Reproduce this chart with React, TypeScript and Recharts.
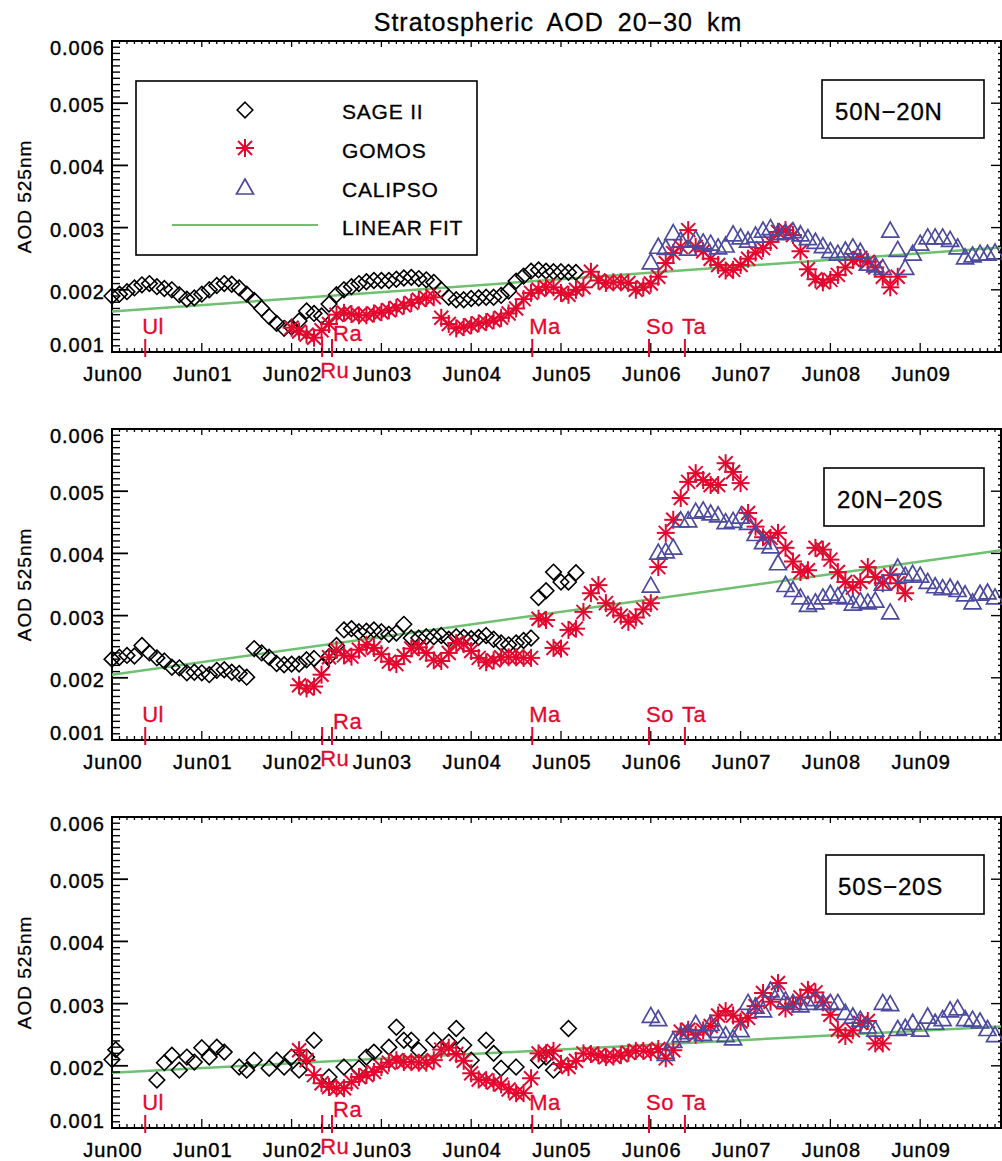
import React from 'react';
import {
  ScatterChart,
  Scatter,
  XAxis,
  YAxis,
  ReferenceArea,
  ReferenceLine,
  Legend
} from 'recharts';

const FONT = "'Liberation Sans', Arial, sans-serif";
const RED = '#e3082e';
const BLUE = '#4c4a9e';
const GREEN = '#6fc070';

// plot geometry inside each chart
const PT = 20;
const PB = 331;
const PL = 112;
const PR = 1001;
const panelTops = [21, 409, 797];

const X_MAX = 9.9;
const xTickLabels = ['Jun00', 'Jun01', 'Jun02', 'Jun03', 'Jun04', 'Jun05', 'Jun06', 'Jun07', 'Jun08', 'Jun09'];
const yTickLabels = ['0.001', '0.002', '0.003', '0.004', '0.005', '0.006'];
const regionNames = ['50N\u221220N', '20N\u221220S', '50S\u221220S'];

const volcanoNames = ['Ul', 'Ru', 'Ra', 'Ma', 'So', 'Ta'];
const volcanoTimes = [0.37, 2.34, 2.45, 4.68, 5.98, 6.38];

// monthly series start month (months after Jun 2000)
const sageStart = 0;
const gomosStart1 = 24;
const gomosStart2 = 25;
const gomosStart3 = 25;
const calipsoStart = 72;

// 50N-20N
const sage1 = [0.00190, 0.00193, 0.00197, 0.00203, 0.00208, 0.00210, 0.00205, 0.00202, 0.00200, 0.00192,
  0.00185, 0.00187, 0.00193, 0.00200, 0.00207, 0.00210, 0.00209, 0.00203, 0.00193, 0.00183,
  0.00170, 0.00157, 0.00146, 0.00138, 0.00140, 0.00150, 0.00166, 0.00162, 0.00158, 0.00177,
  0.00192, 0.00200, 0.00205, 0.00210, 0.00213, 0.00215, 0.00215, 0.00215, 0.00217, 0.00219,
  0.00220, 0.00218, 0.00216, 0.00212, 0.00200, 0.00188, 0.00184, 0.00184, 0.00186, 0.00187,
  0.00188, 0.00188, 0.00191, 0.00198, 0.00214, 0.00222, 0.00230, 0.00232, 0.00230, 0.00229,
  0.00229, 0.00228, 0.00228];
const gomos1 = [0.00139, 0.00133, 0.00128, 0.00123, 0.00135, 0.00145, 0.00160, 0.00163, 0.00161, 0.00159,
  0.00159, 0.00162, 0.00164, 0.00167, 0.00171, 0.00175, 0.00179, 0.00184, 0.00187, 0.00188,
  0.00155, 0.00145, 0.00138, 0.00140, 0.00143, 0.00146, 0.00148, 0.00151, 0.00155, 0.00162,
  0.00170, 0.00185, 0.00195, 0.00200, 0.00204, 0.00204, 0.00195, 0.00192, 0.00200, 0.00204,
  0.00229, 0.00215, 0.00211, 0.00212, 0.00212, 0.00211, 0.00200, 0.00204, 0.00210, 0.00221,
  0.00243, 0.00259, 0.00269, 0.00296, 0.00269, 0.00262, 0.00250, 0.00240, 0.00231, 0.00232,
  0.00240, 0.00250, 0.00260, 0.00267, 0.00277, 0.00293, 0.00296, 0.00288, 0.00262, 0.00233,
  0.00217, 0.00212, 0.00216, 0.00224, 0.00236, 0.00248, 0.00251, 0.00245, 0.00236, 0.00221,
  0.00204, 0.00221];
const calipso1 = [0.00245, 0.00270, 0.00268, 0.00292, 0.00280, 0.00267, 0.00282, 0.00277, 0.00275, 0.00269,
  0.00272, 0.00290, 0.00285, 0.00280, 0.00288, 0.00296, 0.00300, 0.00292, 0.00293, 0.00295,
  0.00290, 0.00284, 0.00278, 0.00271, 0.00263, 0.00259, 0.00264, 0.00269, 0.00262, 0.00243,
  0.00240, 0.00236, 0.00296, 0.00265, 0.00236, 0.00259, 0.00275, 0.00285, 0.00285, 0.00285,
  0.00281, 0.00269, 0.00253, 0.00256, 0.00259, 0.00259, 0.00261];
const fit1 = [0.00165, 0.00268];

// 20N-20S
const sage2 = [0.00230, 0.00233, 0.00236, 0.00235, 0.00252, 0.00240, 0.00232, 0.00227, 0.00217, 0.00216,
  0.00208, 0.00209, 0.00208, 0.00205, 0.00212, 0.00213, 0.00209, 0.00207, 0.00201, 0.00247,
  0.00240, 0.00233, 0.00223, 0.00221, 0.00222, 0.00222, 0.00229, 0.00231, 0.00218, 0.00234,
  0.00252, 0.00277, 0.00279, 0.00274, 0.00275, 0.00277, 0.00274, 0.00270, 0.00272, 0.00286,
  0.00264, 0.00264, 0.00266, 0.00266, 0.00268, 0.00262, 0.00266, 0.00265, 0.00263, 0.00265,
  0.00268, 0.00262, 0.00256, 0.00253, 0.00256, 0.00260, 0.00264, 0.00329, 0.00340, 0.00370,
  0.00354, 0.00354, 0.00369];
const gomos2 = [0.00188, 0.00183, 0.00186, 0.00205, 0.00233, 0.00245, 0.00236, 0.00234, 0.00245, 0.00253,
  0.00248, 0.00238, 0.00226, 0.00222, 0.00235, 0.00247, 0.00249, 0.00240, 0.00228, 0.00227,
  0.00240, 0.00256, 0.00254, 0.00243, 0.00232, 0.00225, 0.00228, 0.00233, 0.00233, 0.00233,
  0.00232, 0.00232, 0.00295, 0.00293, 0.00248, 0.00247, 0.00277, 0.00279, 0.00306, 0.00336,
  0.00349, 0.00320, 0.00310, 0.00300, 0.00290, 0.00297, 0.00310, 0.00320, 0.00378, 0.00433,
  0.00454, 0.00489, 0.00515, 0.00529, 0.00518, 0.00510, 0.00510, 0.00545, 0.00531, 0.00513,
  0.00465, 0.00443, 0.00426, 0.00425, 0.00433, 0.00409, 0.00387, 0.00370, 0.00373, 0.00409,
  0.00406, 0.00390, 0.00370, 0.00354, 0.00345, 0.00354, 0.00378, 0.00362, 0.00352, 0.00365,
  0.00352, 0.00336];
const calipso2 = [0.00349, 0.00402, 0.00404, 0.00410, 0.00454, 0.00454, 0.00468, 0.00470, 0.00465, 0.00462,
  0.00451, 0.00453, 0.00460, 0.00450, 0.00432, 0.00419, 0.00412, 0.00385, 0.00350, 0.00342,
  0.00330, 0.00318, 0.00322, 0.00330, 0.00336, 0.00332, 0.00330, 0.00320, 0.00324, 0.00322,
  0.00325, 0.00352, 0.00306, 0.00378, 0.00365, 0.00368, 0.00365, 0.00355, 0.00348, 0.00345,
  0.00346, 0.00342, 0.00335, 0.00322, 0.00336, 0.00338, 0.00330];
const fit2 = [0.00205, 0.00405];

// 50S-20S
const sageMonths3 = [0, 0.5, 6, 7, 8, 9, 10, 11, 12, 13, 14, 15, 17, 18, 19, 21, 22, 23, 24, 25, 26, 27,
  29, 31, 33, 34, 35, 37, 38, 39, 40, 41, 43, 45, 46, 47, 48, 50, 51, 52, 54, 57, 58, 59, 61];
const sage3 = [0.00210, 0.00226, 0.00177, 0.00205, 0.00217, 0.00193, 0.00214, 0.00206, 0.00229, 0.00214,
  0.00230, 0.00222, 0.00198, 0.00193, 0.00209, 0.00196, 0.00209, 0.00198, 0.00214, 0.00193,
  0.00214, 0.00241, 0.00182, 0.00198, 0.00196, 0.00214, 0.00222, 0.00230, 0.00262, 0.00241,
  0.00241, 0.00225, 0.00241, 0.00238, 0.00260, 0.00233, 0.00209, 0.00241, 0.00220, 0.00196,
  0.00198, 0.00209, 0.00214, 0.00193, 0.00260];
const gomos3 = [0.00225, 0.00209, 0.00185, 0.00172, 0.00166, 0.00164, 0.00164, 0.00174, 0.00182, 0.00185,
  0.00190, 0.00198, 0.00205, 0.00209, 0.00206, 0.00206, 0.00205, 0.00205, 0.00209, 0.00226,
  0.00229, 0.00219, 0.00208, 0.00188, 0.00178, 0.00177, 0.00173, 0.00170, 0.00162, 0.00156,
  0.00156, 0.00180, 0.00220, 0.00220, 0.00224, 0.00203, 0.00198, 0.00208, 0.00220, 0.00219,
  0.00217, 0.00214, 0.00215, 0.00217, 0.00221, 0.00224, 0.00224, 0.00222, 0.00227, 0.00212,
  0.00225, 0.00255, 0.00258, 0.00250, 0.00257, 0.00264, 0.00281, 0.00288, 0.00281, 0.00271,
  0.00277, 0.00296, 0.00317, 0.00303, 0.00333, 0.00292, 0.00300, 0.00310, 0.00322, 0.00318,
  0.00302, 0.00282, 0.00258, 0.00248, 0.00257, 0.00269, 0.00272, 0.00236, 0.00236];
const calipso3 = [0.00281, 0.00276, 0.00220, 0.00241, 0.00250, 0.00255, 0.00268, 0.00252, 0.00268, 0.00257,
  0.00250, 0.00245, 0.00258, 0.00302, 0.00296, 0.00290, 0.00322, 0.00318, 0.00306, 0.00302,
  0.00298, 0.00302, 0.00308, 0.00302, 0.00302, 0.00302, 0.00286, 0.00280, 0.00275, 0.00264,
  0.00259, 0.00302, 0.00300, 0.00260, 0.00262, 0.00270, 0.00259, 0.00280, 0.00270, 0.00276,
  0.00290, 0.00293, 0.00276, 0.00275, 0.00272, 0.00260, 0.00250];
const fit3 = [0.00189, 0.00263];

const monthly = (start: number, values: number[]) =>
  values.map((v, i) => ({ x: (start + i) / 12, y: v }));
const irregular = (months: number[], values: number[]) =>
  values.map((v, i) => ({ x: months[i] / 12, y: v }));

const panels = [
  {
    region: regionNames[0],
    sage: monthly(sageStart, sage1),
    gomos: monthly(gomosStart1, gomos1),
    calipso: monthly(calipsoStart, calipso1),
    fit: fit1
  },
  {
    region: regionNames[1],
    sage: monthly(sageStart, sage2),
    gomos: monthly(gomosStart2, gomos2),
    calipso: monthly(calipsoStart, calipso2),
    fit: fit2
  },
  {
    region: regionNames[2],
    sage: irregular(sageMonths3, sage3),
    gomos: monthly(gomosStart3, gomos3),
    calipso: monthly(calipsoStart, calipso3),
    fit: fit3
  }
];

const volcanoData = volcanoNames.map((n, i) => ({ x: volcanoTimes[i], y: 0.001, name: n }));

const xTicks = Array.from({ length: 119 }, (_, i) => i / 12);
const yTicks = Array.from({ length: 51 }, (_, i) => (10 + i) / 10000);

// slight stroke makes the labels as heavy as the original plot font
const textStyle = { fontFamily: FONT, fontSize: 20, letterSpacing: 1 };

const XTick = (props: any) => {
  const { x, payload } = props;
  const m = Math.round(payload.value * 12);
  const major = m % 12 === 0;
  return (
    <g>
      <line x1={x} x2={x} y1={PB} y2={PB - (major ? 9 : 4)} stroke="#000" strokeWidth={1.3} />
      <line x1={x} x2={x} y1={PT} y2={PT + (major ? 6 : 3)} stroke="#000" strokeWidth={1.3} />
      {major && (
        <text
          x={x + 1}
          y={PB + 22}
          textAnchor="middle"
          dominantBaseline="central"
          fill="#000"
          stroke="#000"
          strokeWidth={0.4}
          style={textStyle}
        >
          {xTickLabels[m / 12]}
        </text>
      )}
    </g>
  );
};

const YTick = (props: any) => {
  const { y, payload } = props;
  const k = Math.round(payload.value * 10000);
  const major = k % 10 === 0;
  const ly = Math.min(Math.max(y + 2, PT + 7), PB - 7);
  return (
    <g>
      <line x1={PL} x2={PL + (major ? 16 : 8)} y1={y} y2={y} stroke="#000" strokeWidth={major ? 1.8 : 1.4} />
      <line x1={PR} x2={PR - (major ? 10 : 3)} y1={y} y2={y} stroke="#000" strokeWidth={1.4} />
      {major && (
        <text
          x={105}
          y={ly}
          textAnchor="end"
          dominantBaseline="central"
          fill="#000"
          stroke="#000"
          strokeWidth={0.4}
          style={textStyle}
        >
          {yTickLabels[k / 10 - 1]}
        </text>
      )}
    </g>
  );
};

const Diamond = (p: any) => {
  const { cx, cy } = p;
  const r = 7.8;
  return (
    <path
      d={`M${cx},${cy - r}L${cx + r},${cy}L${cx},${cy + r}L${cx - r},${cy}Z`}
      fill="none"
      stroke="#000"
      strokeWidth={1.6}
    />
  );
};

const Asterisk = (p: any) => {
  const { cx, cy } = p;
  const r = 9;
  const d = 7;
  return (
    <g stroke={RED} strokeWidth={2}>
      <line x1={cx} y1={cy - r} x2={cx} y2={cy + r} />
      <line x1={cx - r} y1={cy} x2={cx + r} y2={cy} />
      <line x1={cx - d} y1={cy - d} x2={cx + d} y2={cy + d} />
      <line x1={cx - d} y1={cy + d} x2={cx + d} y2={cy - d} />
    </g>
  );
};

const Triangle = (p: any) => {
  const { cx, cy } = p;
  return (
    <path
      d={`M${cx},${cy - 8}L${cx + 8.5},${cy + 7}L${cx - 8.5},${cy + 7}Z`}
      fill="none"
      stroke={BLUE}
      strokeWidth={1.7}
    />
  );
};

const VolcanoMark = (p: any) => {
  const { cx, cy, payload } = p;
  const n = payload.name;
  let tx = cx - 3;
  let ty = cy - 26;
  if (n === 'Ru') {
    tx = cx - 2;
    ty = cy + 18;
  } else if (n === 'Ra') {
    tx = cx + 1;
    ty = cy - 19;
  }
  return (
    <g>
      <line x1={cx} x2={cx} y1={cy - 13} y2={cy + 5} stroke={RED} strokeWidth={2} />
      <text
        x={tx}
        y={ty}
        dominantBaseline="central"
        fill={RED}
        stroke={RED}
        strokeWidth={0.3}
        style={{ fontFamily: FONT, fontSize: 22, letterSpacing: 0.5 }}
      >
        {n}
      </text>
    </g>
  );
};

const legendText = { fontFamily: FONT, fontSize: 21, letterSpacing: 0.8 };

const LegendBox = () => (
  <svg width={343} height={176} style={{ display: 'block' }}>
    <rect x={1} y={1} width={341} height={174} fill="#fff" stroke="#000" strokeWidth={1.6} />
    <Diamond cx={110} cy={30} />
    <text x={207} y={31} dominantBaseline="central" stroke="#000" strokeWidth={0.3} style={legendText}>SAGE  II</text>
    <Asterisk cx={110} cy={68} />
    <text x={207} y={70} dominantBaseline="central" stroke="#000" strokeWidth={0.3} style={legendText}>GOMOS</text>
    <Triangle cx={110} cy={107} />
    <text x={207} y={109} dominantBaseline="central" stroke="#000" strokeWidth={0.3} style={legendText}>CALIPSO</text>
    <line x1={37} x2={183} y1={145} y2={145} stroke={GREEN} strokeWidth={2} />
    <text x={207} y={147} dominantBaseline="central" stroke="#000" strokeWidth={0.3} style={legendText}>LINEAR  FIT</text>
  </svg>
);

const YLabel = () => (
  <text
    x={24}
    y={PT + 155.5}
    transform={`rotate(-90 24 ${PT + 155.5})`}
    textAnchor="middle"
    dominantBaseline="central"
    fill="#000"
    stroke="#000"
    strokeWidth={0.3}
    style={{ fontFamily: FONT, fontSize: 19, letterSpacing: 1 }}
  >
    AOD  525nm
  </text>
);

function Panel({ idx }: { idx: number }) {
  const p = panels[idx];
  return (
    <div style={{ position: 'absolute', left: 0, top: panelTops[idx] }}>
      <ScatterChart width={1002} height={380} margin={{ top: PT, right: 1, bottom: 20, left: 12 }}>
        <XAxis
          type="number"
          dataKey="x"
          domain={[0, X_MAX]}
          ticks={xTicks}
          interval={0}
          height={29}
          axisLine={false}
          tickLine={false}
          tick={<XTick />}
        />
        <YAxis
          type="number"
          dataKey="y"
          domain={[0.001, 0.006]}
          ticks={yTicks}
          interval={0}
          width={100}
          axisLine={false}
          tickLine={false}
          tick={<YTick />}
          label={{ content: () => <YLabel /> }}
        />
        <ReferenceArea
          x1={0}
          x2={X_MAX}
          y1={0.001}
          y2={0.006}
          fill="none"
          fillOpacity={0}
          stroke="#000"
          strokeWidth={2}
          ifOverflow="visible"
        />
        <Scatter data={volcanoData} shape={VolcanoMark} isAnimationActive={false} />
        <Scatter name="SAGE II" data={p.sage} shape={Diamond} isAnimationActive={false} />
        <Scatter name="GOMOS" data={p.gomos} shape={Asterisk} isAnimationActive={false} />
        <Scatter name="CALIPSO" data={p.calipso} shape={Triangle} isAnimationActive={false} />
        <ReferenceLine
          segment={[{ x: 0, y: p.fit[0] }, { x: X_MAX, y: p.fit[1] }]}
          stroke={GREEN}
          strokeWidth={2.5}
          ifOverflow="visible"
        />
        {idx === 0 && (
          <Legend
            layout="vertical"
            align="center"
            verticalAlign="middle"
            content={() => <LegendBox />}
            wrapperStyle={{ left: 135, top: 59, width: 343, height: 176 }}
          />
        )}
      </ScatterChart>
    </div>
  );
}

const regionBoxes = [
  { x: 822, y: 80, w: 162, h: 58, tx: 835, ty: 111 },
  { x: 824, y: 468, w: 160, h: 58, tx: 837, ty: 499 },
  { x: 826, y: 855, w: 158, h: 59, tx: 838, ty: 886 }
];

export default function App() {
  return (
    <div
      style={{
        position: 'absolute',
        left: 0,
        top: 0,
        width: 1002,
        height: 1161,
        overflow: 'hidden',
        background: '#fff',
        fontFamily: FONT
      }}
    >
      {panels.map((_, i) => (
        <Panel key={i} idx={i} />
      ))}
      <svg width={1002} height={1161} style={{ position: 'absolute', left: 0, top: 0, pointerEvents: 'none' }}>
        <text
          x={558}
          y={22}
          textAnchor="middle"
          dominantBaseline="central"
          stroke="#000"
          strokeWidth={0.3}
          style={{ fontFamily: FONT, fontSize: 25, letterSpacing: 1, wordSpacing: 6 }}
        >
          Stratospheric AOD 20{'\u2212'}30 km
        </text>
        {regionBoxes.map((b, i) => (
          <g key={i}>
            <rect x={b.x} y={b.y} width={b.w} height={b.h} fill="#fff" stroke="#000" strokeWidth={1.6} />
            <text
              x={b.tx}
              y={b.ty}
              dominantBaseline="central"
              stroke="#000"
              strokeWidth={0.3}
              style={{ fontFamily: FONT, fontSize: 24, letterSpacing: 0.8 }}
            >
              {regionNames[i]}
            </text>
          </g>
        ))}
      </svg>
    </div>
  );
}
